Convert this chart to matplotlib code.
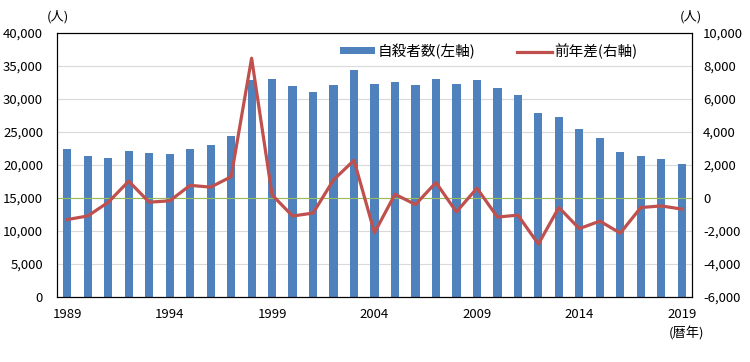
import matplotlib.pyplot as plt
import numpy as np

plt.rcParams['font.family'] = ['Noto Sans CJK JP', 'DejaVu Sans']

# data: suicides per year and change from previous year
years = list(range(1989, 2020))
suicides = [22436, 21346, 21084, 22104, 21851, 21679, 22445, 23104, 24391, 32863,
            33048, 31957, 31042, 32143, 34427, 32325, 32552, 32155, 33093, 32249,
            32845, 31690, 30651, 27858, 27283, 25427, 24025, 21897, 21321, 20840,
            20169]
diff = [-1306, -1090, -262, 1020, -253, -172, 766, 659, 1287, 8472,
        185, -1091, -915, 1101, 2284, -2102, 227, -397, 938, -844,
        596, -1155, -1039, -2793, -575, -1856, -1402, -2128, -576, -481,
        -671]
tick_years = [1989, 1994, 1999, 2004, 2009, 2014, 2019]

fig = plt.figure(figsize=(7.5, 3.62), dpi=100)
ax = fig.add_axes([57/750, 1-297/362, 635/750, 264/362])
x = np.arange(len(years))

#bars on left axis
ax.bar(x, suicides, width=0.4, color='#4F81BD', label='自殺者数(左軸)', zorder=2)
ax.set_ylim(0, 40000)
ax.set_yticks(range(0, 40001, 5000))
ax.set_yticklabels([f'{v:,}' for v in range(0, 40001, 5000)])
ax.yaxis.grid(True, color='#D9D9D9', lw=0.8, zorder=0)
ax.set_axisbelow(True)
ax.set_xlim(-0.5, len(years) - 0.5)
ax.set_xticks([years.index(y) for y in tick_years])
ax.set_xticklabels([str(y) for y in tick_years])
ax.tick_params(axis='y', length=0, labelsize=9.5, pad=10)
ax.tick_params(axis='x', length=0, labelsize=9.5, pad=8)

#line on right axis
ax2 = ax.twinx()
ax2.axhline(0, color='#9BBB59', lw=0.8, zorder=1)
ax2.plot(x, diff, color='#C0504D', lw=2.3, label='前年差(右軸)', zorder=3)
ax2.set_ylim(-6000, 10000)
ax2.set_yticks(range(-6000, 10001, 2000))
ax2.set_yticklabels([f'{v:,}' for v in range(-6000, 10001, 2000)])
ax2.tick_params(length=0, labelsize=9.5, pad=8)

for a in (ax, ax2):
    for s in a.spines.values():
        s.set_color('black')
        s.set_linewidth(0.8)

h1, l1 = ax.get_legend_handles_labels()
h2, l2 = ax2.get_legend_handles_labels()
ax2.legend(h1 + h2, l1 + l2, loc='upper right', bbox_to_anchor=(0.935, 1.01),
           ncol=2, frameon=False, fontsize=10.5, handlelength=2.4,
           handleheight=0.35, columnspacing=2.8, handletextpad=0.2)

fig.text(58/750, 1-17/362, '(人)', fontsize=9.5, ha='center', va='center')
fig.text(691/750, 1-17/362, '(人)', fontsize=9.5, ha='center', va='center')
fig.text(686/750, 1-333/362, '(暦年)', fontsize=9.5, ha='center', va='center')

fig.savefig('out.png', dpi=100)
